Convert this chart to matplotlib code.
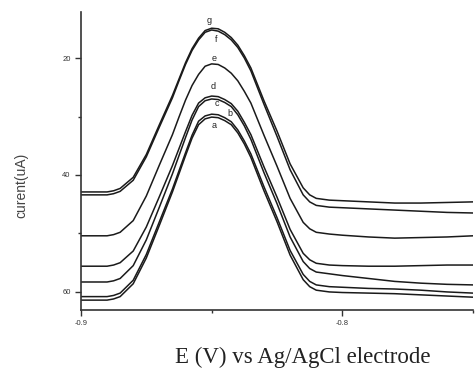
import matplotlib
matplotlib.use("Agg")
import matplotlib.pyplot as plt
from matplotlib.ticker import MultipleLocator

# potential grid (V) shared by all voltammograms
potential = [-0.900, -0.890, -0.8875, -0.885, -0.880, -0.875, -0.870, -0.865, -0.8625,
             -0.860, -0.8575, -0.855, -0.8525, -0.850, -0.8475, -0.845, -0.8425, -0.840,
             -0.8375, -0.835, -0.830, -0.825, -0.820, -0.815, -0.8125, -0.810, -0.805,
             -0.800, -0.790, -0.780, -0.770, -0.760, -0.750]

# current (uA), one list per curve
curve_a = [61.4, 61.4, 61.2, 60.8, 58.6, 54.2, 48.6, 42.9, 39.8, 36.7, 33.7, 31.4, 30.4,
           30.1, 30.2, 30.7, 31.4, 32.8, 34.7, 37.0, 42.7, 48.0, 53.7, 57.9, 59.1, 59.7,
           60.0, 60.1, 60.2, 60.3, 60.5, 60.7, 60.9]
curve_b = [60.8, 60.8, 60.6, 60.2, 58.0, 53.6, 48.0, 42.4, 39.3, 36.2, 33.2, 30.8, 29.9,
           29.6, 29.7, 30.2, 30.9, 32.3, 34.2, 36.4, 42.0, 47.3, 52.9, 57.0, 58.2, 58.8,
           59.1, 59.2, 59.4, 59.5, 59.7, 60.0, 60.2]
curve_c = [58.3, 58.3, 58.1, 57.7, 55.5, 51.1, 45.5, 39.8, 36.7, 33.6, 30.6, 28.3, 27.3,
           27.0, 27.1, 27.6, 28.3, 29.7, 31.6, 33.9, 39.6, 44.9, 50.6, 54.8, 56.0, 56.6,
           56.9, 57.2, 57.7, 58.2, 58.5, 58.7, 58.8]
curve_d = [55.6, 55.6, 55.4, 55.0, 53.0, 48.9, 43.7, 38.4, 35.5, 32.6, 29.8, 27.7, 26.8,
           26.5, 26.6, 27.1, 27.8, 29.1, 31.0, 33.1, 38.6, 43.8, 49.3, 53.4, 54.5, 55.1,
           55.4, 55.5, 55.6, 55.6, 55.5, 55.4, 55.4]
curve_e = [50.4, 50.4, 50.2, 49.8, 47.8, 43.6, 38.3, 33.1, 30.1, 27.2, 24.7, 22.8, 21.4,
           21.0, 21.1, 21.7, 22.6, 23.9, 25.7, 27.7, 33.2, 38.5, 44.0, 48.1, 49.2, 49.8,
           50.1, 50.3, 50.6, 50.8, 50.7, 50.6, 50.4]
curve_f = [43.4, 43.4, 43.2, 42.8, 40.9, 36.9, 31.8, 26.8, 23.9, 21.1, 18.7, 16.9, 15.6,
           15.2, 15.4, 16.0, 16.9, 18.2, 20.0, 22.2, 27.9, 33.4, 39.1, 43.4, 44.6, 45.2,
           45.5, 45.6, 45.8, 46.0, 46.2, 46.4, 46.5]
curve_g = [42.9, 42.9, 42.7, 42.3, 40.4, 36.5, 31.4, 26.4, 23.6, 20.8, 18.4, 16.6, 15.3,
           14.9, 15.0, 15.6, 16.5, 17.8, 19.6, 21.7, 27.3, 32.5, 38.1, 42.2, 43.4, 44.0,
           44.3, 44.4, 44.6, 44.8, 44.8, 44.7, 44.6]

curves = [curve_a, curve_b, curve_c, curve_d, curve_e, curve_f, curve_g]
names = ["a", "b", "c", "d", "e", "f", "g"]
# where each letter sits (V, uA)
label_x = [-0.8489, -0.8431, -0.8481, -0.8496, -0.8489, -0.8481, -0.8508]
label_y = [31.6, 29.4, 27.7, 24.9, 20.0, 16.8, 13.5]

fig = plt.figure(figsize=(4.76, 3.70), dpi=100)
ax = fig.add_axes([0.170, 0.162, 0.824, 0.806])

for ys in curves:
    ax.plot(potential, ys, color="#1a1a1a", lw=1.1, solid_joinstyle="round")

for n, lx, ly in zip(names, label_x, label_y):
    ax.text(lx, ly, n, fontsize=6.5, ha="center", va="center", color="#222222",
            family="Liberation Sans")

ax.set_xlim(-0.9, -0.75)
ax.set_ylim(63.1, 12.1)

ax.set_xticks([-0.9, -0.8])
ax.set_xticklabels(["-0.9", "-0.8"])
ax.xaxis.set_minor_locator(MultipleLocator(0.05))
ax.set_yticks([20, 40, 60])
ax.yaxis.set_minor_locator(MultipleLocator(10))

ax.tick_params(which="major", direction="out", length=4, width=1, labelsize=5.5,
               colors="#333333")
ax.tick_params(which="minor", direction="out", length=2.5, width=1, colors="#333333")
for lab in ax.get_xticklabels() + ax.get_yticklabels():
    lab.set_family("Liberation Sans")

ax.spines["top"].set_visible(False)
ax.spines["right"].set_visible(False)
ax.spines["left"].set_linewidth(1.2)
ax.spines["bottom"].set_linewidth(1.2)
ax.spines["left"].set_color("#333333")
ax.spines["bottom"].set_color("#333333")

fig.text(0.045, 0.50, "curent(uA)", rotation=90, ha="center", va="center",
         fontsize=10, color="#444444", family="Liberation Sans")
fig.text(0.636, 0.035, "E (V) vs Ag/AgCl electrode", ha="center", va="center",
         fontsize=16.5, color="#222222", family="Liberation Serif")

fig.savefig("out.png", dpi=100)
